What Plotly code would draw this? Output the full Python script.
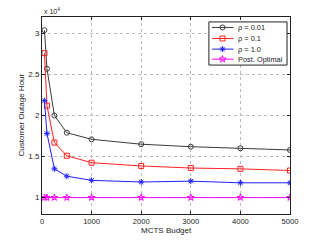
import plotly.graph_objects as go

budget = [50, 100, 250, 500, 1000, 2000, 3000, 4000, 5000]
rho_001 = [3.04, 2.57, 2.00, 1.79, 1.71, 1.65, 1.62, 1.60, 1.58]
rho_01 = [2.76, 2.12, 1.67, 1.51, 1.425, 1.385, 1.36, 1.35, 1.33]
rho_10 = [2.18, 1.78, 1.35, 1.26, 1.21, 1.19, 1.20, 1.18, 1.18]
post_opt = [1.0, 1.0, 1.0, 1.0, 1.0, 1.0, 1.0, 1.0, 1.0]
x_ticks = [0, 1000, 2000, 3000, 4000, 5000]
y_ticks = [1, 1.5, 2, 2.5, 3]
y_tick_labels = ["1", "1.5", "2", "2.5", "3"]
names = ["\u03c1 = 0.01", "\u03c1 = 0.1", "\u03c1 = 1.0", "Post. Optimal"]

colors = ["#3a3a3a", "#ff2020", "#2020ff", "#ff00ff"]
symbols = ["circle-open", "square-open", "asterisk-open", "star-open"]
values = [rho_001, rho_01, rho_10, post_opt]

fig = go.Figure()
for name, vals, col, sym in zip(names, values, colors, symbols):
    fig.add_trace(go.Scatter(
        x=budget, y=vals, name=name, mode="lines+markers", showlegend=False,
        line=dict(color=col, width=1),
        marker=dict(symbol=sym, size=5, color=col, line=dict(color=col, width=1)),
    ))

# manual compact legend in an overlay axis (fraction of plot area)
bx0, bx1, by0, by1 = 0.673, 0.988, 0.756, 0.975
fig.add_trace(go.Scatter(
    x=[bx0, bx1, bx1, bx0, bx0], y=[by0, by0, by1, by1, by0],
    mode="lines", fill="toself", fillcolor="white",
    line=dict(color="#222", width=1), xaxis="x2", yaxis="y2",
    showlegend=False, hoverinfo="skip"))
item_y = [0.947, 0.891, 0.837, 0.786]
lx0, lx1, lxm, tx = 0.685, 0.772, 0.728, 0.782
annotations = []
for name, col, sym, yy in zip(names, colors, symbols, item_y):
    fig.add_trace(go.Scatter(
        x=[lx0, lx1], y=[yy, yy], mode="lines", line=dict(color=col, width=1),
        xaxis="x2", yaxis="y2", showlegend=False, hoverinfo="skip"))
    fig.add_trace(go.Scatter(
        x=[lxm], y=[yy], mode="markers",
        marker=dict(symbol=sym, size=5, color=col, line=dict(color=col, width=1)),
        xaxis="x2", yaxis="y2", showlegend=False, hoverinfo="skip"))
    annotations.append(dict(text=name, x=tx, y=yy, xref="x2", yref="y2",
                            xanchor="left", yanchor="middle", showarrow=False,
                            font=dict(size=7.4, color="#222")))

annotations.append(dict(text="x 10<sup>4</sup>", xref="paper", yref="paper",
                        x=0, y=1, xanchor="left", yanchor="bottom", showarrow=False,
                        font=dict(size=7)))
annotations.append(dict(text="Customer Outage Hour", xref="paper", yref="paper",
                        x=0, y=0.5, xanchor="center", yanchor="middle",
                        xshift=-21, textangle=-90, showarrow=False,
                        font=dict(size=8, color="#222")))
annotations.append(dict(text="MCTS Budget", xref="paper", yref="paper",
                        x=0.5, y=0, xanchor="center", yanchor="middle",
                        yshift=-16, showarrow=False,
                        font=dict(size=8, color="#222")))

font = "Liberation Sans, Arial, sans-serif"
fig.update_layout(
    width=320, height=241,
    margin=dict(l=42, r=30, t=17, b=27),
    paper_bgcolor="white", plot_bgcolor="white",
    font=dict(family=font, size=8, color="#222"),
    showlegend=False,
    xaxis=dict(range=[0, 5000], tickvals=x_ticks, showgrid=True,
               gridcolor="#bbbbbb", griddash="dot", gridwidth=1,
               showline=True, linecolor="#222", linewidth=1, mirror="ticks",
               ticks="inside", ticklen=3, tickcolor="#222", zeroline=False,
               tickfont=dict(size=7.6)),
    yaxis=dict(range=[0.8, 3.2], tickvals=y_ticks, ticktext=y_tick_labels,
               showgrid=True, gridcolor="#bbbbbb", griddash="dot", gridwidth=1,
               showline=True, linecolor="#222", linewidth=1, mirror="ticks",
               ticks="inside", ticklen=3, tickcolor="#222", zeroline=False,
               tickfont=dict(size=8)),
    xaxis2=dict(range=[0, 1], overlaying="x", anchor="y2", visible=False, fixedrange=True),
    yaxis2=dict(range=[0, 1], overlaying="y", anchor="x2", visible=False, fixedrange=True),
    annotations=annotations,
)
fig.write_html("out.html", config={"displayModeBar": False},
               post_script="document.body.style.margin='0';")
